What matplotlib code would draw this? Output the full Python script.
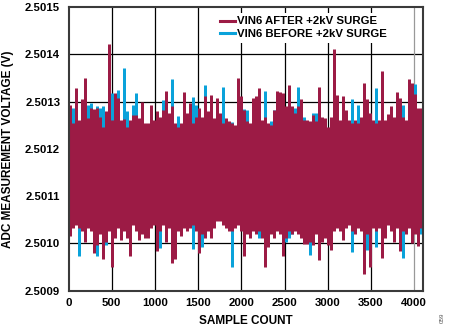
import numpy as np
import matplotlib
matplotlib.use("Agg")
import matplotlib.pyplot as plt
from matplotlib.lines import Line2D

plt.rcParams['font.family'] = ['Liberation Sans', 'DejaVu Sans']
plt.rcParams['font.weight'] = 'bold'

# Readings in microvolts above 2.5000 V; for each successive group of samples
# the highest and the lowest reading.
after_hi = [1293, 1254, 1328, 1261, 1305, 1349, 1265, 1286, 1284, 1286,
            1268, 1247, 1279, 1422, 1261, 1318, 1307, 1261, 1263, 1247,
            1261, 1272, 1272, 1265, 1299, 1254, 1254, 1293, 1261, 1279,
            1268, 1283, 1323, 1275, 1291, 1254, 1247, 1254, 1320, 1275,
            1298, 1254, 1268, 1286, 1268, 1311, 1279, 1313, 1265, 1308,
            1275, 1254, 1265, 1258, 1254, 1251, 1349, 1311, 1283,
            1258, 1254, 1307, 1311, 1328, 1261, 1268, 1254, 1251, 1283,
            1323, 1320, 1318, 1290, 1335, 1290, 1275, 1290, 1306, 1261,
            1261, 1258, 1272, 1258, 1331, 1268, 1265, 1247, 1268, 1411,
            1313, 1261, 1311, 1283, 1261, 1254, 1261, 1254, 1268, 1340,
            1305, 1275, 1261, 1254, 1261, 1365, 1261, 1274, 1290, 1268,
            1320, 1308, 1268, 1261, 1347, 1340, 1316, 1286, 1286]
after_lo = [1015, 1033, 1040, 1033, 1026, 1004, 1033, 1026, 980, 997,
            1019, 966, 1004, 1026, 950, 1011, 1033, 1008, 1026, 1011,
            974, 1040, 1026, 1008, 1019, 1011, 1011, 1033, 1040, 983,
            1026, 1040, 1004, 1033, 959, 966, 1026, 1015, 1033, 1026,
            1033, 1040, 1026, 980, 1019, 1011, 1026, 1011, 1033, 1047,
            1047, 1040, 1033, 1026, 1026, 1033, 1040, 1026, 974, 1019,
            1011, 1026, 1019, 1026, 1011, 950, 992, 1019, 1011, 1026,
            1019, 974, 1011, 1026, 1019, 1026, 1019, 1011, 999, 999,
            1004, 997, 1019, 964, 1004, 1011, 997, 987, 1026, 1033,
            1026, 1008, 1033, 1040, 1026, 1019, 1033, 1026, 935, 1019,
            950, 1033, 1026, 1033, 969, 1011, 1040, 1026, 1004, 1033,
            983, 1026, 1019, 1033, 1001, 1019, 994, 1033]
before_hi = [1261, 1286, 1240, 1240, 1240, 1240, 1293, 1297, 1279, 1290,
             1286, 1290, 1240, 1240, 1318, 1275, 1325, 1258, 1370, 1279,
             1258, 1293, 1318, 1240, 1240, 1240, 1240, 1240, 1240, 1240,
             1261, 1303, 1261, 1240, 1347, 1240, 1270, 1240, 1240, 1261,
             1240, 1309, 1293, 1240, 1240, 1335, 1261, 1240, 1240, 1240,
             1240, 1331, 1240, 1240, 1256, 1240, 1240, 1240, 1284,
             1283, 1240, 1240, 1240, 1240, 1240, 1323, 1240, 1258, 1283,
             1240, 1240, 1240, 1240, 1240, 1240, 1286, 1331, 1240, 1267,
             1240, 1240, 1275, 1275, 1240, 1240, 1240, 1240, 1240, 1240,
             1240, 1240, 1240, 1240, 1240, 1305, 1240, 1293, 1240, 1240,
             1240, 1240, 1240, 1328, 1240, 1240, 1240, 1240, 1240, 1240,
             1240, 1240, 1293, 1240, 1240, 1240, 1338, 1240, 1240]
before_lo = [1050, 1050, 1050, 974, 1050, 1050, 1050, 1050, 1050, 974,
             1050, 1050, 997, 1050, 1050, 1050, 1050, 1050, 1050, 1050,
             1050, 1050, 1050, 1050, 1050, 1050, 1050, 1050, 1050, 1050,
             990, 1050, 1050, 1050, 1050, 1050, 1050, 1050, 1050, 1050,
             1050, 989, 1050, 1050, 992, 1050, 1050, 1050, 1050, 1050,
             1050, 1050, 1050, 1050, 950, 1050, 1050, 1050, 1050, 1050,
             1050, 1050, 1050, 1011, 1050, 1050, 1050, 1050, 1050, 1050,
             1050, 1050, 1004, 1011, 1019, 1050, 1050, 1050, 1050, 1050,
             976, 1050, 1050, 1050, 1050, 1050, 1050, 1050, 1050, 1050,
             1050, 1050, 1050, 1050, 981, 1050, 1050, 1050, 1050, 987,
             1050, 1050, 992, 1050, 1050, 1050, 1050, 1050, 1050, 1050,
             1050, 969, 1050, 1050, 1050, 1050, 1050, 1019]

labels = ["VIN6 AFTER +2kV SURGE", "VIN6 BEFORE +2kV SURGE"]
x_ticks = [0, 500, 1000, 1500, 2000, 2500, 3000, 3500, 4000]
y_ticks = [2.5009, 2.5010, 2.5011, 2.5012, 2.5013, 2.5014, 2.5015]
n_samples = 4096

CRIMSON = "#9C1B45"
BLUE = "#0AA2DA"
FS = 8.2


def to_volts(uv):
    return 2.5 + np.asarray(uv, dtype=float) * 1e-6


def group_centres(n):
    return (np.arange(n) + 0.5) * n_samples / n


fig = plt.figure(figsize=(4.5, 3.29), dpi=100)
ax = fig.add_axes([68.5 / 450, 1 - 290.7 / 329, (422.6 - 68.5) / 450, (290.7 - 7) / 329])

bar_lw = (422.6 - 68.5) / len(after_hi) * 72 / 100
xb = group_centres(len(before_hi))
xa = group_centres(len(after_hi))
ax.vlines(xb, to_volts(before_lo), to_volts(before_hi), color=BLUE, lw=bar_lw,
          zorder=2, capstyle='butt')
ax.vlines(xa, to_volts(after_lo), to_volts(after_hi), color=CRIMSON, lw=bar_lw,
          zorder=3, capstyle='butt')

ax.set_xlim(0, n_samples)
ax.set_ylim(y_ticks[0], y_ticks[-1])
ax.set_xticks(x_ticks)
ax.set_yticks(y_ticks)
ax.set_yticklabels([f"{t:.4f}" for t in y_ticks])
ax.tick_params(length=0, labelsize=FS, pad=6)
ax.tick_params(axis='x', pad=5)

for t in y_ticks[1:-1]:
    ax.axhline(t, color='black', lw=0.9, zorder=1)
for t in x_ticks[1:]:
    ax.axvline(t, color='#999999' if t == 4000 else 'black', lw=0.9, zorder=1)

for s in ax.spines.values():
    s.set_color('#3a3a3a')
    s.set_linewidth(1.5)
    s.set_zorder(5)

ax.set_xlabel("SAMPLE COUNT", fontsize=8.5, fontweight='bold', labelpad=5)
fig.text(8 / 450, 1 - 149 / 329, "ADC MEASUREMENT VOLTAGE (V)", rotation=90,
         ha='center', va='center', fontsize=8.5, fontweight='bold')

handles = [Line2D([], [], color=CRIMSON, lw=2.2),
           Line2D([], [], color=BLUE, lw=2.2)]
leg = ax.legend(handles, labels, loc='upper left',
                bbox_to_anchor=(216 / 450, 1 - 12.5 / 329), bbox_transform=fig.transFigure,
                frameon=True, fancybox=False, framealpha=1, facecolor='white',
                edgecolor='none', fontsize=FS, handlelength=1.3, handletextpad=0.2,
                labelspacing=0.25, borderpad=0.35, borderaxespad=0)
leg.set_zorder(6)
for t in leg.get_texts():
    t.set_fontweight('bold')

fig.text(442 / 450, 1 - 318 / 329, "059", rotation=90, ha='center', va='center',
         fontsize=4.5, color='#555555', fontweight='normal')

fig.savefig("out.png", dpi=100)
